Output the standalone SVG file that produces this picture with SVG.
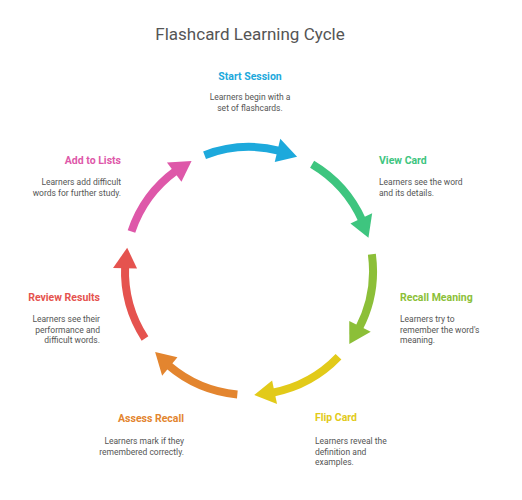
<svg xmlns="http://www.w3.org/2000/svg" xmlns:xlink="http://www.w3.org/1999/xlink" width="522" height="500" viewBox="0 0 522 500">
<style>
.title{font-family:Roboto,"Liberation Sans",sans-serif;font-size:17px;fill:#555;}
.h{font-family:Roboto,"Liberation Sans",sans-serif;font-size:10.5px;font-weight:bold;}
.d{font-family:Roboto,"Liberation Sans",sans-serif;font-size:8.5px;fill:#555;}
.arc{fill:none;stroke-width:8;}
</style>
<defs>
<path id="arc" d="M -44.44 -115.77 A 124 124 0 0 1 30.63 -120.16"/>
<polygon id="head" points="31.28,-132.36 48.05,-114.32 25.76,-109.00"/>
</defs>
<rect width="522" height="500" fill="#ffffff"/>
<text class="title" x="250" y="40" text-anchor="middle">Flashcard Learning Cycle</text>
<g id="connectors" transform="translate(249,271)">
<g transform="rotate(0)" stroke="#1DA9DC" fill="#1DA9DC"><use xlink:href="#arc" class="arc"/><use xlink:href="#head" stroke="none"/></g>
<g transform="rotate(51.6)" stroke="#3EC57F" fill="#3EC57F"><use xlink:href="#arc" class="arc"/><use xlink:href="#head" stroke="none"/></g>
<g transform="rotate(103.2)" stroke="#8CBF38" fill="#8CBF38"><use xlink:href="#arc" class="arc"/><use xlink:href="#head" stroke="none"/></g>
<g transform="rotate(154.8)" stroke="#E2CA19" fill="#E2CA19"><use xlink:href="#arc" class="arc"/><use xlink:href="#head" stroke="none"/></g>
<g transform="rotate(206.4)" stroke="#E3852F" fill="#E3852F"><use xlink:href="#arc" class="arc"/><use xlink:href="#head" stroke="none"/></g>
<g transform="rotate(258)" stroke="#E5534F" fill="#E5534F"><use xlink:href="#arc" class="arc"/><use xlink:href="#head" stroke="none"/></g>
<g transform="rotate(309.6)" stroke="#DE58A9" fill="#DE58A9"><use xlink:href="#arc" class="arc"/><use xlink:href="#head" stroke="none"/></g>
</g>
<g id="start-session" text-anchor="middle">
<text class="h" x="250" y="79.5" fill="#1DA9DC">Start Session</text>
<text class="d" x="250" y="99.5">Learners begin with a</text>
<text class="d" x="250" y="110.5">set of flashcards.</text>
</g>
<g id="view-card">
<text class="h" x="379" y="164" fill="#3EC57F">View Card</text>
<text class="d" x="379" y="185">Learners see the word</text>
<text class="d" x="379" y="195.5">and its details.</text>
</g>
<g id="recall-meaning">
<text class="h" x="400" y="300.5" fill="#8CBF38">Recall Meaning</text>
<text class="d" x="400" y="322">Learners try to</text>
<text class="d" x="400" y="332.5">remember the word's</text>
<text class="d" x="400" y="343">meaning.</text>
</g>
<g id="flip-card">
<text class="h" x="315" y="421" fill="#E2CA19">Flip Card</text>
<text class="d" x="315" y="444">Learners reveal the</text>
<text class="d" x="315" y="454.5">definition and</text>
<text class="d" x="315" y="465">examples.</text>
</g>
<g id="assess-recall" text-anchor="end">
<text class="h" x="184" y="422" fill="#E3852F">Assess Recall</text>
<text class="d" x="184" y="444">Learners mark if they</text>
<text class="d" x="184" y="454.5">remembered correctly.</text>
</g>
<g id="review-results" text-anchor="end">
<text class="h" x="100" y="300.5" fill="#E5534F">Review Results</text>
<text class="d" x="100" y="322">Learners see their</text>
<text class="d" x="100" y="332.5">performance and</text>
<text class="d" x="100" y="343">difficult words.</text>
</g>
<g id="add-to-lists" text-anchor="end">
<text class="h" x="121" y="164" fill="#DE58A9">Add to Lists</text>
<text class="d" x="121" y="185">Learners add difficult</text>
<text class="d" x="121" y="195.5">words for further study.</text>
</g>
</svg>
